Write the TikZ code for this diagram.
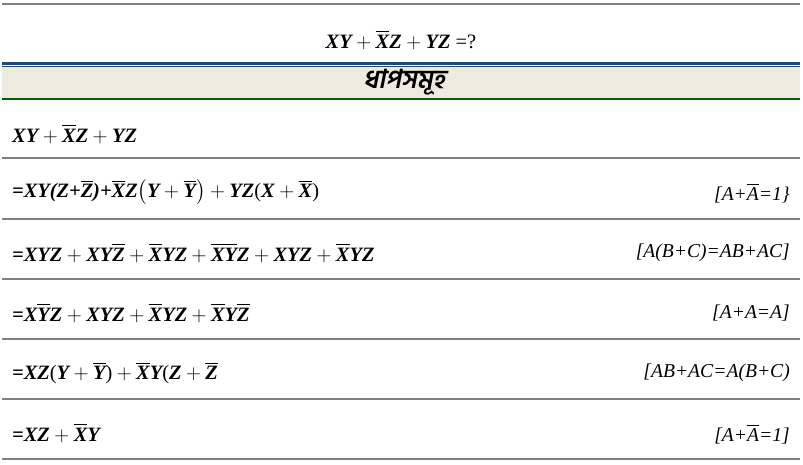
\documentclass[tikz,border=0pt]{standalone}
\usepackage{fontspec}
\usepackage{amsmath}
\newfontfamily\lawfont{Liberation Serif}
\newfontfamily\bnfont[Script=Bengali,FakeSlant=0.2]{Hind Siliguri}
\definecolor{rulegray}{RGB}{128,128,128}
\definecolor{headblue}{RGB}{31,73,125}
\definecolor{bandbeige}{RGB}{237,234,224}
\definecolor{bandgreen}{RGB}{0,97,0}
\newcommand{\ovl}[1]{$\overline{\hbox{#1}}$}
\newcommand{\pl}{\hspace{0.22em}$+$\hspace{0.22em}}
\tikzset{
  rowline/.style = {draw = rulegray, line width = 1.2pt},
  steprow/.style = {anchor = west, inner sep = 0pt, font = \lawfont\bfseries\itshape\fontsize{20.4}{24}\selectfont},
  lawtext/.style = {anchor = east, inner sep = 0pt, font = \lawfont\itshape\fontsize{19.6}{23}\selectfont},
}
\begin{document}
\begin{tikzpicture}[x = 1pt, y = -1pt]
  \useasboundingbox (0, 0) rectangle (803, 465);
  % heading band
  \draw[rowline] (2, 4) -- (800, 4);
  \fill[bandbeige] (2, 67) rectangle (800, 99);
  \draw[headblue, line width = 2.2pt] (2, 63.5) -- (800, 63.5);
  \draw[headblue, line width = 1pt] (2, 67) -- (800, 67);
  \draw[bandgreen, line width = 1.3pt] (2, 99) -- (800, 99);
  \node[steprow, anchor = center] (title) at (401, 40) {XY\pl\ovl{X}Z\pl YZ\hspace{0.25em}{\normalfont\lawfont =?}};
  \node[font = \bnfont\bfseries\fontsize{26}{30}\selectfont] (steps) at (404, 82) {ধাপসমূহ};
  \foreach \y in {158, 219, 279, 339, 399, 459} {
    \draw[rowline] (2, \y) -- (800, \y);
  }
  % steps
  \node[steprow] (r1) at (12, 134) {XY\pl\ovl{X}Z\pl YZ};
  \node[steprow] (r2) at (12, 192) {=XY(Z+\ovl{Z})+\ovl{X}Z$\bigl($Y\pl\ovl{Y}$\bigr)$\pl YZ{\normalfont\lawfont(}X\pl\ovl{X}{\normalfont\lawfont)}};
  \node[steprow] (r3) at (12, 253) {=XYZ\pl XY\ovl{Z}\pl\ovl{X}YZ\pl\ovl{XY}Z\pl XYZ\pl\ovl{X}YZ};
  \node[steprow] (r4) at (12, 313) {=X\ovl{Y}Z\pl XYZ\pl\ovl{X}YZ\pl\ovl{X}Y\ovl{Z}};
  \node[steprow] (r5) at (12, 373) {=XZ{\normalfont\lawfont(}Y\pl\ovl{Y}{\normalfont\lawfont)}\pl\ovl{X}Y{\normalfont\lawfont(}Z\pl\ovl{Z}};
  \node[steprow] (r6) at (12, 433) {=XZ\pl\ovl{X}Y};
  % laws
  \node[lawtext] (l2) at (790, 193) {[A+\ovl{A}=1\}};
  \node[lawtext] (l3) at (790, 253) {[A(B+C)=AB+AC]};
  \node[lawtext] (l4) at (790, 313) {[A+A=A]};
  \node[lawtext] (l5) at (790, 373) {[AB+AC=A(B+C)};
  \node[lawtext] (l6) at (790, 434) {[A+\ovl{A}=1]};
\end{tikzpicture}
\end{document}
